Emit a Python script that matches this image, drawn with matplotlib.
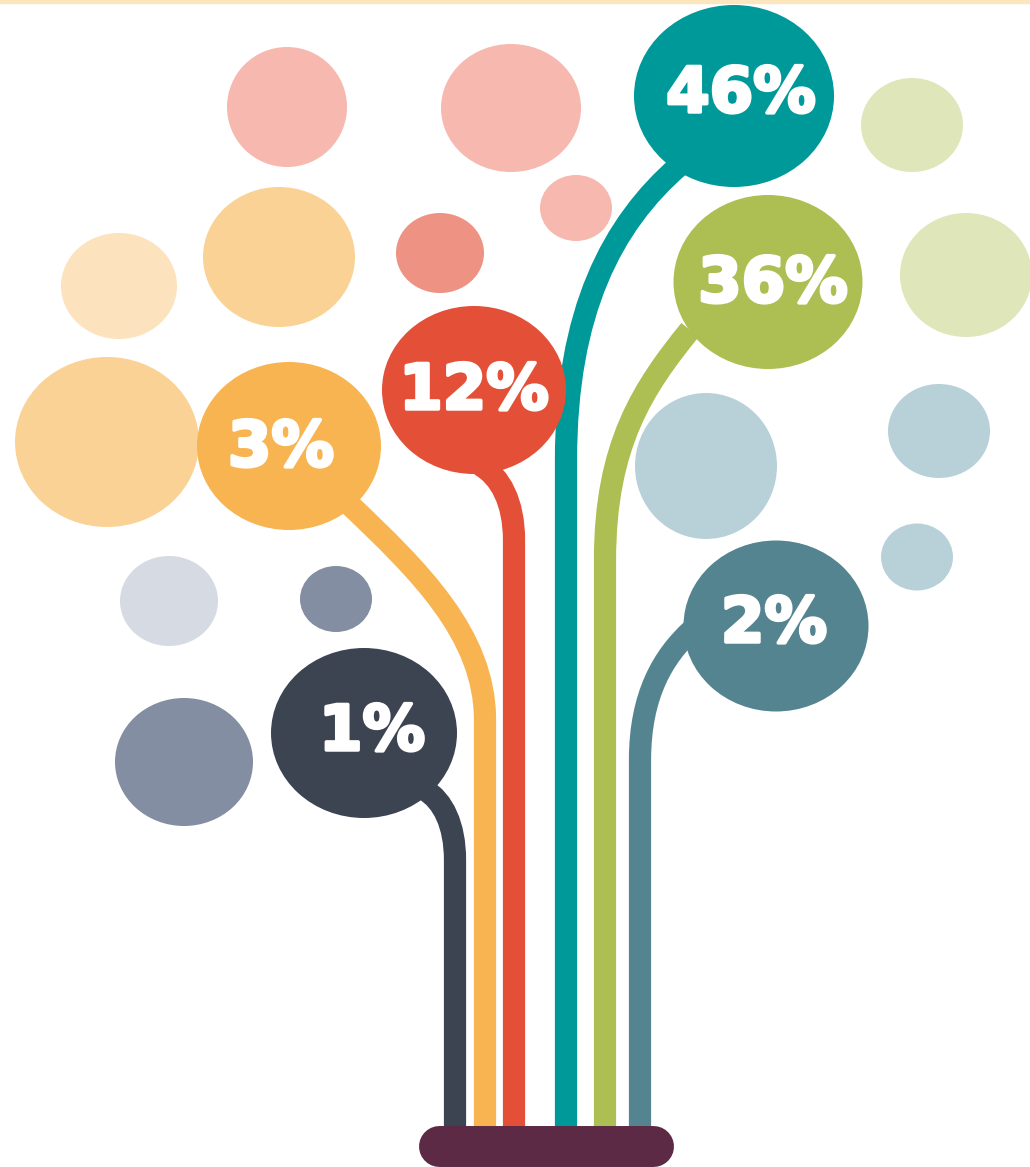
import matplotlib
matplotlib.use("Agg")
import matplotlib.pyplot as plt
from matplotlib.patches import Ellipse, PathPatch
from matplotlib.path import Path
import matplotlib.patheffects as pe

# valores do gráfico (um balão por categoria)
values = [1, 3, 12, 46, 36, 2]
labels = [str(v) + "%" for v in values]

# layout
colors = ["#3D4451", "#F8B450", "#E34F37", "#009999", "#ADBE52", "#53848F"]
bubble_xy = [(364, 733), (289, 446), (474, 390), (734, 96), (768, 282), (776, 626)]
bubble_wh = [(186, 170), (184, 168), (184, 168), (200, 182), (189, 174), (185, 171)]
text_xy = [(372, 733), (281, 449), (474, 392), (741, 95), (773, 285), (774, 625)]
stem_start = [(425, 790), (350, 505), (480, 465), (680, 165), (690, 330), (692, 630)]
stem_knee = [(455, 860), (485, 720), (514, 540), (566, 460), (605, 560), (640, 760)]
# forma da curva de cada caule (fração dx, fração dy, fração final)
stem_bend = [(0.6, 0.15, 0.5), (0.5, 0.3, 0.4), (0.6, 0.15, 0.5),
             (0.6, 0.2, 0.5), (0.55, 0.25, 0.5), (0.55, 0.2, 0.5)]
stem_bottom = 1135

# balões de fundo (decoração)
bg_xy = [(287, 107), (511, 108), (576, 208), (440, 253), (279, 257), (119, 286),
         (107, 442), (169, 601), (336, 599), (184, 762), (912, 125), (966, 275),
         (706, 466), (939, 431), (917, 557)]
bg_wh = [(120, 120), (140, 128), (72, 66), (88, 80), (152, 140), (116, 106),
         (184, 170), (98, 90), (72, 66), (138, 128), (102, 94), (132, 124),
         (142, 146), (102, 94), (72, 67)]
bg_colors = ["#F6B8AF", "#F6B8AF", "#F6B8AF", "#EE9284", "#FAD295", "#FCE3BE",
             "#FAD295", "#D6DBE3", "#838EA2", "#838EA2", "#DFE6BA", "#DFE6BA",
             "#B8D1D9", "#B8D1D9", "#B8D1D9"]


# Caule curvo: sai do balão e desce na vertical até a base.
def make_stem(start, knee, bend):
    sx, sy = start
    kx, ky = knee
    a, b, c = bend
    dx = kx - sx
    dy = ky - sy
    verts = [(sx, sy), (sx + a * dx, sy + b * dy), (kx, ky - c * dy),
             (kx, ky), (kx, stem_bottom)]
    codes = [Path.MOVETO, Path.CURVE4, Path.CURVE4, Path.CURVE4, Path.LINETO]
    return Path(verts, codes)


fig = plt.figure(figsize=(10.30, 11.67), dpi=100)
ax = fig.add_axes([0, 0, 1, 1])
ax.set_xlim(0, 1030)
ax.set_ylim(1167, 0)
ax.axis("off")

ax.axhspan(0, 3, color="#FCE6BD", zorder=0)

for (x, y), (w, h), c in zip(bg_xy, bg_wh, bg_colors):
    ax.add_patch(Ellipse((x, y), w, h, color=c, lw=0, zorder=1))

for i in range(len(values)):
    stem = make_stem(stem_start[i], stem_knee[i], stem_bend[i])
    ax.add_patch(PathPatch(stem, fill=False, edgecolor=colors[i], lw=16,
                           capstyle="butt", zorder=2))

for i in range(len(values)):
    x, y = bubble_xy[i]
    w, h = bubble_wh[i]
    ax.add_patch(Ellipse((x, y), w, h, color=colors[i], lw=0, zorder=3))
    tx, ty = text_xy[i]
    ax.text(tx, ty, labels[i], color="white", fontsize=45, fontweight="heavy",
            ha="center", va="center", zorder=4,
            path_effects=[pe.withStroke(linewidth=2.5, foreground="white")])

# base (barra arredondada)
ax.plot([438.5, 652.5], [1146, 1146], color="#5C2A45", lw=29.5,
        solid_capstyle="round", zorder=5)

fig.savefig("out.png", dpi=100, facecolor="white")
